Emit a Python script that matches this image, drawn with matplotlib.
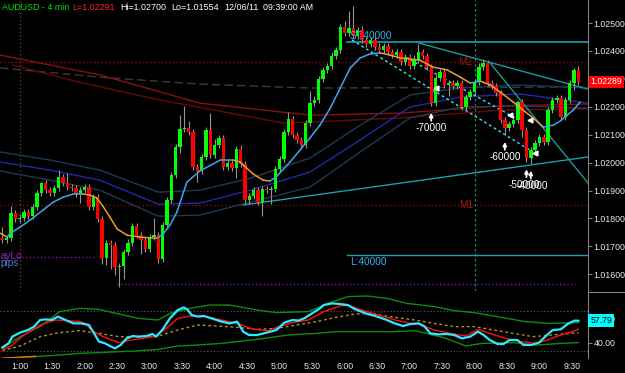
import numpy as np
import matplotlib.pyplot as plt
from matplotlib.transforms import blended_transform_factory
from matplotlib.lines import Line2D

plt.rcParams['font.family'] = ['Liberation Sans', 'DejaVu Sans']

# ---- AUDUSD 4 min bars, first bar at 0:44 ----
bar_minutes0 = 44
first_open = 1.01729
closes = [
    1.01722, 1.01729, 1.01819, 1.01798, 1.01801, 1.01823, 1.01808, 1.01841, 1.01891, 1.01927,
    1.01901, 1.01891, 1.01909, 1.01948, 1.01927, 1.01912, 1.01909, 1.01887, 1.01901, 1.01912,
    1.01841, 1.01876, 1.01798, 1.01658, 1.01712, 1.01704, 1.01626, 1.01629, 1.01679, 1.01712,
    1.01772, 1.01740, 1.01722, 1.01690, 1.01733, 1.01740, 1.01654, 1.01776, 1.01866, 1.01955,
    1.02056, 1.02120, 1.02124, 1.02109, 1.01984, 1.01970, 1.02020, 1.02117, 1.02027, 1.02063,
    1.02088, 1.01984, 1.01998, 1.01980, 1.02048, 1.01995, 1.01866, 1.01880, 1.01901, 1.01858,
    1.01905, 1.01901, 1.01905, 1.01977, 1.02013, 1.02109, 1.02156, 1.02099, 1.02081, 1.02063,
    1.02142, 1.02213, 1.02224, 1.02299, 1.02332, 1.02346, 1.02382, 1.02403, 1.02486, 1.02464,
    1.02482, 1.02453, 1.02475, 1.02439, 1.02425, 1.02439, 1.02414, 1.02403, 1.02418, 1.02396,
    1.02385, 1.02396, 1.02360, 1.02378, 1.02346, 1.02367, 1.02396, 1.02382, 1.02342, 1.02213,
    1.02303, 1.02324, 1.02278, 1.02285, 1.02274, 1.02285, 1.02199, 1.02235, 1.02253, 1.02289,
    1.02342, 1.02357, 1.02285, 1.02274, 1.02249, 1.02152, 1.02124, 1.02138, 1.02152, 1.02217,
    1.02117, 1.02016, 1.02045, 1.02070, 1.02091, 1.02073, 1.02188, 1.02224, 1.02231, 1.02163,
    1.02224, 1.02285, 1.02332, 1.02289]
# wick lengths in pips beyond the body
upper_wick = [
    4, 1, 2.5, 1, 1.5, 1, 1, 1, 1, 0.5,
    1, 1, 1, 2.5, 1, 3.5, 1, 1, 1, 1,
    1, 1, 1, 1, 1, 1, 1, 1, 1, 1.5,
    1, 1, 1, 1, 1, 6, 1, 1, 1, 1,
    1, 5, 8, 2.5, 1, 1, 1, 1, 6, 2,
    1, 1, 1, 1, 1, 1.5, 1, 1, 1, 1,
    1, 1, 1, 1, 1, 1, 2.5, 1, 1, 1,
    1, 4.5, 1.5, 1, 1, 1, 1.5, 1, 1, 2,
    6, 8, 1, 1.5, 1, 1, 1, 1.5, 1, 1,
    1, 1, 1, 1, 1, 2, 3, 1, 1, 1,
    1, 1, 1, 1, 1, 1, 1, 1, 1, 1,
    1.5, 1.5, 1, 1, 1, 1, 1, 1, 1, 0.7,
    1, 1, 1, 1, 1, 1, 1, 1, 1, 1,
    1, 1, 0.7, 1.5]
lower_wick = [
    1, 1, 1, 1, 1, 1, 1, 1, 1, 1,
    1, 1, 1, 1, 1, 1, 1, 1, 3, 1,
    1, 1, 1, 2, 2.5, 8.5, 3, 7, 4.5, 1,
    1, 1, 5, 1, 1, 1, 1.5, 1, 1, 1,
    1, 2, 1, 1, 1, 4, 1, 1, 1, 1,
    1, 1, 1, 1, 3.5, 1, 1, 1.5, 1, 1,
    5, 1, 5, 1, 1, 1, 1, 1, 1, 1,
    1, 1, 1, 1, 1, 1, 1, 1, 1, 1,
    1, 1, 1, 1, 1, 1, 1, 1, 1, 1,
    1, 1, 1, 1, 1, 1, 1, 1, 1, 1,
    1, 1, 1, 4, 1, 1, 1, 1, 1, 1,
    1, 1, 1, 1, 1, 1, 2.5, 1, 1, 1,
    2.5, 1.5, 2, 1, 1, 1, 1, 1, 1, 1,
    1, 1, 2.5, 1]

time_labels = ['1:00', '1:30', '2:00', '2:30', '3:00', '3:30', '4:00', '4:30', '5:00',
               '5:30', '6:00', '6:30', '7:00', '7:30', '8:00', '8:30', '9:00', '9:30']
time_minutes = [60, 90, 120, 150, 180, 210, 240, 270, 300, 330, 360, 390, 420, 450, 480, 510, 540, 570]

# ---- overlay indicators (bar index, price) ----
fast_ma_x = [-0.5, 1.1, 1.8, 4.1, 6.4, 9.4, 11.7, 14.0, 16.3, 18.6, 20.2, 21.8, 23.2, 24.8, 26.5, 28.8,
             31.8, 35.7, 37.1, 38.7, 40.3, 42.6, 45.6, 50.3, 53.3, 54.9, 57.9, 60.2, 61.8, 63.4, 66.4,
             68.7, 71.0, 73.3, 75.7, 78.0, 80.3, 82.6, 84.9, 87.2, 89.5, 91.8, 96.4, 99.4, 102.7,
             105.7, 108.0, 110.3, 112.6, 114.9, 117.9, 120.2, 122.5, 124.9, 127.2, 128.8, 130.4,
             131.8, 133.4]
fast_ma_y = [1.01747, 1.01733, 1.01747, 1.01769, 1.01794, 1.01830, 1.01858, 1.01876, 1.01887, 1.01887,
             1.01884, 1.01873, 1.01844, 1.01805, 1.01762, 1.01740, 1.01733, 1.01729, 1.01744, 1.01776,
             1.01823, 1.01930, 1.01970, 1.02009, 1.02009, 1.02002, 1.01959, 1.01937, 1.01934, 1.01952,
             1.02002, 1.02045, 1.02088, 1.02134, 1.02195, 1.02267, 1.02339, 1.02375, 1.02389, 1.02393,
             1.02385, 1.02375, 1.02367, 1.02342, 1.02332, 1.02306, 1.02285, 1.02292, 1.02278, 1.02253,
             1.02217, 1.02188, 1.02160, 1.02127, 1.02134, 1.02149, 1.02170, 1.02188, 1.02217]

band_x = [-0.5, 11.0, 22.5, 36.0, 45.6, 57.2, 71.0, 82.6, 94.1, 105.7, 119.5, 135.2]
band_up = [1.02038, 1.02009, 1.01973, 1.01894, 1.01901, 1.01944, 1.02016, 1.02134, 1.02242, 1.02267, 1.02278, 1.02267]
band_mid = [1.02002, 1.01973, 1.01937, 1.01851, 1.01855, 1.01901, 1.01966, 1.02081, 1.02199, 1.02235, 1.02246, 1.02213]
band_lo = [1.01970, 1.01937, 1.01901, 1.01808, 1.01812, 1.01858, 1.01912, 1.02038, 1.02160, 1.02199, 1.02203, 1.02195]

red_a_x = [-0.5, 22.5, 45.6, 71.0, 91.8, 114.9, 135.2]
red_a_y = [1.02385, 1.02314, 1.02213, 1.02170, 1.02177, 1.02203, 1.02210]
red_b_x = [2.4, 18.6, 36.4, 64.8, 71.0, 91.8, 114.9, 135.2]
red_b_y = [1.02349, 1.02285, 1.02224, 1.02142, 1.02145, 1.02160, 1.02188, 1.02192]
gray_x = [-0.5, 22.5, 45.6, 71.0, 135.2]
gray_y = [1.02339, 1.02306, 1.02281, 1.02267, 1.02271]

m2_level, m1_level = 1.02360, 1.01848
daylo_level, low_level = 1.01661, 1.01565
st_level, l_level = 1.02432, 1.01669
last_price = 1.02289

signal_bars = [99, 116, 121, 122]
signal_text = ['-70000', '-60000', '-50000', '-40000']

# ---- oscillator panel (bar index, value) ----
osc_x = [0, 1.4, 2.3, 4.1, 5.9, 7.3, 8.7, 10.0, 11.4, 12.8, 14.6, 16.4, 18.2, 20.0, 21.4, 22.3, 23.7,
         25.1, 26.0, 27.3, 28.7, 30.1, 31.4, 33.3, 34.6, 35.5, 36.9, 38.7, 40.5, 41.9, 42.8, 43.7,
         45.1, 46.5, 48.3, 50.6, 52.4, 54.2, 55.6, 56.9, 58.8, 61.0, 63.3, 65.1, 67.0, 68.3, 69.7,
         71.5, 73.3, 74.2, 76.1, 77.9, 79.7, 81.5, 84.3, 86.1, 88.4, 90.6, 92.5, 94.3, 96.1, 97.5,
         98.8, 100.7, 102.5, 104.3, 106.1, 108.0, 109.8, 111.1, 112.5, 114.3, 115.7, 117.1, 118.9,
         120.3, 122.1, 123.9, 125.7, 127.1, 128.9, 130.7, 132.1, 133.0]
osc_y = [36.5, 39.7, 45.1, 48.3, 50.4, 53.1, 58.4, 58.9, 58.4, 61.1, 58.4, 55.7, 55.7, 54.4, 46.4, 41.1,
         39.7, 37.1, 35.7, 38.4, 43.7, 45.6, 45.1, 45.6, 47.2, 45.1, 50.4, 59.7, 66.4, 68.5, 66.4, 62.4,
         61.1, 61.6, 59.7, 57.1, 55.7, 57.1, 49.1, 46.4, 46.4, 48.3, 50.4, 56.3, 58.4, 57.9, 59.7, 63.7,
         67.7, 70.4, 71.7, 71.2, 70.4, 66.9, 63.2, 61.6, 58.9, 55.7, 53.6, 55.2, 55.7, 53.1, 47.7, 46.9,
         47.2, 46.4, 43.7, 45.1, 49.1, 46.4, 42.4, 39.2, 39.2, 42.4, 42.4, 38.4, 38.4, 40.3, 46.4, 50.4,
         50.9, 55.7, 57.9, 57.79]
sig_x = [0, 2.3, 5.0, 8.7, 12.3, 15.0, 17.8, 19.1, 20.5, 23.2, 26.9, 29.6, 32.3, 35.1, 37.8, 40.5, 43.3,
         46.9, 50.6, 54.2, 57.9, 61.5, 63.3, 67.0, 70.6, 74.2, 77.9, 79.7, 83.4, 87.0, 90.6, 94.3, 96.1,
         99.7, 103.4, 107.0, 109.8, 112.5, 116.1, 119.8, 123.4, 126.2, 128.9, 131.6, 133.0]
sig_y = [34.4, 38.4, 46.4, 54.4, 58.4, 57.9, 57.1, 55.7, 50.4, 45.1, 40.3, 42.4, 43.7, 45.1, 51.7, 59.7,
         61.6, 61.1, 58.4, 55.7, 50.9, 49.9, 52.5, 56.3, 58.4, 65.1, 69.6, 70.4, 65.9, 62.4, 58.4, 55.7,
         55.2, 50.4, 47.7, 45.6, 50.9, 47.7, 43.7, 41.1, 39.7, 42.9, 46.4, 49.1, 50.9]
slow_x = [0, 4.1, 8.7, 13.2, 17.8, 22.3, 26.9, 31.4, 36.0, 40.5, 45.1, 49.6, 54.2, 58.8, 63.3, 67.9,
          72.4, 77.0, 81.5, 84.3, 87.0, 90.6, 95.2, 99.7, 104.3, 108.9, 113.4, 118.0, 122.5, 127.1, 133.0]
slow_y = [33.9, 37.6, 45.1, 48.3, 49.9, 47.7, 45.1, 45.1, 45.6, 50.4, 54.4, 53.6, 52.5, 50.9, 51.7, 54.4,
          57.1, 60.5, 63.2, 63.7, 62.4, 60.5, 58.4, 55.7, 53.1, 53.1, 50.4, 47.7, 45.1, 46.4, 48.3]
env_up_x = [0, 4.1, 8.7, 13.2, 17.8, 22.3, 26.9, 31.4, 36.0, 38.7, 43.3, 47.8, 52.4, 58.8, 63.3, 70.6,
            75.2, 79.7, 84.3, 88.8, 93.4, 99.7, 104.3, 108.9, 115.2, 120.7, 126.2, 133.0]
env_up_y = [35.7, 45.1, 53.1, 65.1, 67.7, 66.9, 63.2, 59.7, 58.4, 63.7, 67.7, 70.4, 70.4, 66.4, 64.3,
            65.1, 71.7, 77.1, 77.6, 75.7, 71.7, 69.1, 65.9, 64.3, 60.5, 57.1, 55.7, 56.3]
env_lo_x = [0, 7.7, 13.2, 17.8, 22.3, 26.9, 30.5, 36.0, 40.5, 45.1, 50.6, 58.8, 66.0, 72.4, 77.0, 81.5,
            90.6, 95.2, 97.9, 102.5, 107.0, 110.7, 118.0, 123.4, 128.9, 133.0]
env_lo_y = [27.7, 29.1, 30.4, 31.7, 32.3, 33.1, 33.6, 34.9, 37.6, 38.4, 39.7, 42.9, 46.4, 47.7, 49.1,
            49.1, 49.1, 49.9, 47.7, 43.7, 37.6, 39.7, 40.3, 38.4, 39.7, 40.3]
osc_last = 57.79

BG = 'black'
AX_GRAY = '#808080'
TXT = '#e8e8e8'
FS = 6.3
HFS = 6.4

fig = plt.figure(figsize=(6.25, 3.73), dpi=100, facecolor=BG)
ax = fig.add_axes([0, 1 - 291 / 373, 588 / 625, 291 / 373], facecolor=BG)
ax2 = fig.add_axes([0, 1 - 358 / 373, 588 / 625, 65 / 373], facecolor=BG)

n = len(closes)
idx = np.arange(n)
c = np.array(closes)
o = np.array([first_open] + closes[:-1])
hi = np.maximum(o, c) + np.array(upper_wick) / 10000
lo = np.minimum(o, c) - np.array(lower_wick) / 10000

# reference lines
ax.axhline(m2_level, color='#9a0a0a', lw=0.9, ls=(0, (1, 2)))
ax.axhline(m1_level, color='#9a0a0a', lw=0.9, ls=(0, (1, 2)))
ax.plot([3.6, 21.4], [daylo_level] * 2, color='#a020c0', lw=0.9, ls=(0, (1, 2)))
ax.plot([26.5, 132.2], [low_level] * 2, color='#a020c0', lw=0.9, ls=(0, (1, 2)))
ax.axvline(4, color='#5a5a10', lw=0.9, ls=(0, (1, 2)))
ax.axvline(109, color='#1a8080', lw=0.9, ls=(0, (2, 2)))

# long averages and bands
ax.plot(gray_x, gray_y, color='#3c3c3c', lw=1, ls=(0, (6, 3)))
ax.plot(red_a_x, red_a_y, color='#8a1010', lw=1)
ax.plot(red_b_x, red_b_y, color='#6a0808', lw=1)
ax.plot(band_x, band_up, color='#1d3a55', lw=1)
ax.plot(band_x, band_mid, color='#2626a8', lw=1)
ax.plot(band_x, band_lo, color='#1d3a55', lw=1)

# trend lines
ax.plot([79.6, 135.2], [st_level] * 2, color='#1aa0b0', lw=1.2)
ax.plot([79.6, 135.2], [l_level] * 2, color='#1aa0b0', lw=1.0)
ax.plot([96.2, 135.2], [1.02428, 1.02263], color='#1a9aa0', lw=1)
ax.plot([112.6, 135.2], [1.02357, 1.01927], color='#1a9aa0', lw=1)
ax.plot([55.6, 135.2], [1.01848, 1.02020], color='#1aa0a8', lw=1)
ax.plot([80.7, 122.5], [1.02439, 1.02038], color='#40e0f0', lw=1, ls=(0, (2, 2)))
ax.plot([93.0, 118.4], [1.02378, 1.02160], color='#40e0f0', lw=1, ls=(0, (2, 2)))

# candles
ax.vlines(idx, lo, hi, color='#959595', lw=0.8, zorder=3)
body_h = np.maximum(np.abs(c - o), 0.00004)
colors = np.where(c >= o, '#00ff00', '#ff0000')
ax.bar(idx, body_h, bottom=np.minimum(o, c), width=0.78, color=colors, zorder=4)

# fast MA: blue rising, orange falling
for k in range(len(fast_ma_x) - 1):
    col = '#3ea6e8' if fast_ma_y[k + 1] >= fast_ma_y[k] else '#e8a030'
    ax.plot(fast_ma_x[k:k + 2], fast_ma_y[k:k + 2], color=col, lw=1.1, zorder=5, solid_capstyle='round')

# markers and signals
ax.plot([100.1, 117.2, 121.8, 123.0], [1.02267, 1.02170, 1.02152, 1.02034], marker='<',
        ls='none', color='white', ms=3.5, zorder=6)
for b, t in zip(signal_bars, signal_text):
    ax.annotate('', xy=(b, lo[b] - 0.00015), xytext=(b, lo[b] - 0.00063),
                arrowprops=dict(arrowstyle='-|>', color='white', lw=1.3, mutation_scale=5), zorder=6)
    dx = {-50000: -0.4, -40000: 0.4}.get(int(t), 0)
    ax.text(b + dx, lo[b] - 0.00080, t, color='white', fontsize=7.2, ha='center', va='center', zorder=6)

ax.text(106.8, m2_level, 'M2', color='#a01818', fontsize=7.2, ha='center', va='center')
ax.text(107.1, m1_level, 'M1', color='#a01818', fontsize=7.2, ha='center', va='center')
ax.text(80.2, 1.02455, 'ST:40000', color='#2ab0f0', fontsize=7.2, ha='left', va='center', zorder=6)
ax.text(80.2, 1.01643, 'L:40000', color='#30b8f0', fontsize=7.2, ha='left', va='center')
ax.text(-0.5, 1.01665, 'ayLo', color='#a020c0', fontsize=7.2, ha='left', va='center')
ax.text(-0.5, 1.01640, 'pips', color='#4a7ed0', fontsize=7.2, ha='left', va='center')

ax.set_xlim(-0.55, 135.2)
ax.set_ylim(1.01540, 1.025824)
for s in ['top', 'left', 'bottom']:
    ax.spines[s].set_visible(False)
ax.spines['right'].set_color(AX_GRAY)
ax.yaxis.tick_right()
ax.set_yticks(np.arange(1.016, 1.0251, 0.001))
ax.set_yticklabels(['%.5f' % v for v in np.arange(1.016, 1.0251, 0.001)])
ax.tick_params(axis='y', colors=TXT, labelsize=FS, length=3, pad=1, width=0.8)
ax.tick_params(axis='y', which='both', color=AX_GRAY)
ax.set_xticks([])

tr = blended_transform_factory(ax.transAxes, ax.transData)
ax.text(1.004, last_price, '%.5f' % last_price, transform=tr, color='white', fontsize=FS,
        ha='left', va='center', bbox=dict(boxstyle='square,pad=0.2', fc='#ff0000', ec='none'),
        clip_on=False, zorder=10)

# oscillator panel
ax2.axhline(66, color='#606060', lw=0.8, ls=(0, (1, 2)))
ax2.axhline(34, color='#606060', lw=0.8, ls=(0, (1, 2)))
ax2.plot(env_up_x, env_up_y, color='#0f8a0f', lw=1)
ax2.plot(env_lo_x, env_lo_y, color='#0f8a0f', lw=1)
ax2.plot([0, 7.7], [27.8, 29.4], color='#e07010', lw=1)
ax2.plot(slow_x, slow_y, color='#b09020', lw=1, ls=(0, (2, 2)))
ax2.plot(sig_x, sig_y, color='#ff1010', lw=1)
ax2.plot(osc_x, osc_y, color='#30e8ff', lw=1.6)

ax2.set_xlim(-0.55, 135.2)
ax2.set_ylim(28, 80)
for s in ['top', 'left', 'bottom']:
    ax2.spines[s].set_visible(False)
ax2.spines['right'].set_color(AX_GRAY)
ax2.yaxis.tick_right()
ax2.set_yticks([40, 60])
ax2.set_yticklabels(['40.00', '60.00'])
ax2.tick_params(axis='y', colors=TXT, labelsize=FS, length=3, pad=1, width=0.8)
ax2.tick_params(axis='y', color=AX_GRAY)
ax2.set_xticks([(m - bar_minutes0) / 4 for m in time_minutes])
ax2.set_xticklabels(time_labels)
ax2.tick_params(axis='x', colors=TXT, labelsize=FS, length=0, pad=3)
tr2 = blended_transform_factory(ax2.transAxes, ax2.transData)
ax2.text(1.004, osc_last, '%.2f' % osc_last, transform=tr2, color='black', fontsize=FS,
         ha='left', va='center', bbox=dict(boxstyle='square,pad=0.25', fc='#00ffff', ec='none'),
         clip_on=False, zorder=10)

fig.add_artist(Line2D([588 / 625, 1], [1 - 292 / 373] * 2, color=AX_GRAY, lw=0.8))

# header
ty = 1 - 7 / 373
fig.text(2 / 625, ty, 'AUDUSD - 4 min', color='#00e000', fontsize=HFS, va='center')
fig.text(72 / 625, ty, 'L=1.02291', color='#ff2020', fontsize=HFS, va='center')
fig.text(120 / 625, ty, 'Hi=1.02700', color='white', fontsize=HFS, va='center')
fig.text(171 / 625, ty, 'Lo=1.01554', color='white', fontsize=HFS, va='center')
fig.text(224 / 625, ty, '12/06/11', color='white', fontsize=HFS, va='center')
fig.text(263 / 625, ty, '09:39:00 AM', color='white', fontsize=HFS, va='center')

fig.savefig('out.png', dpi=100, facecolor=BG)
